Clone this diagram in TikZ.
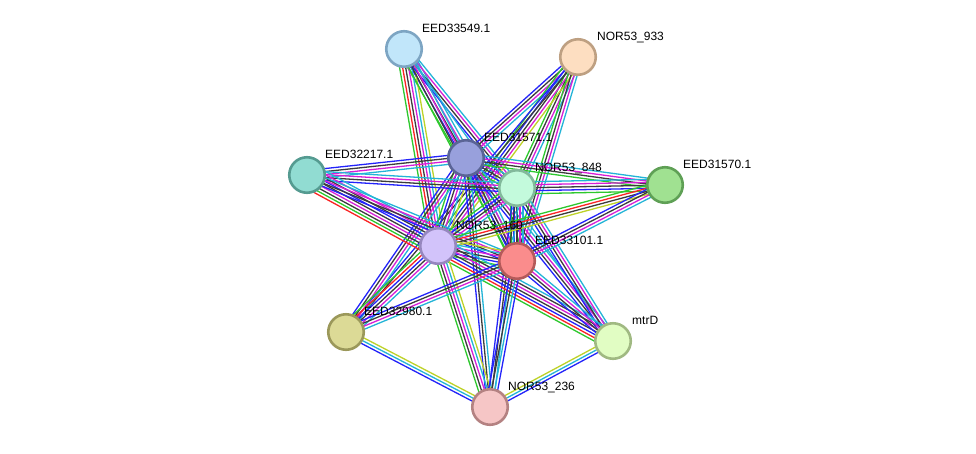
\documentclass[tikz,border=0pt]{standalone}
\usepackage{fontspec}
\setmainfont{Liberation Sans}
\usetikzlibrary{calc}
\pgfdeclarelayer{bg}
\pgfdeclarelayer{lb}
\pgfsetlayers{bg,lb,main}
\definecolor{eg}{RGB}{45,200,45}
\definecolor{er}{RGB}{250,35,35}
\definecolor{eb}{RGB}{35,35,250}
\definecolor{ek}{RGB}{60,60,60}
\definecolor{em}{RGB}{215,30,215}
\definecolor{ec}{RGB}{35,180,215}
\definecolor{ey}{RGB}{190,210,40}
\newcommand\sedge[4]{%
  \foreach \ecol [count=\eidx] in {#4} {%
    \pgfmathsetmacro\eoff{(\eidx-(#3+1)/2)*3}%
    \draw[draw=\ecol, line width=1.3pt] ($(#1)!\eoff pt!90:(#2)$) -- ($(#2)!\eoff pt!-90:(#1)$);
  }}
\tikzset{
  prot/.style={circle, minimum size=35.5pt, inner sep=0pt, line width=2.6pt},
  lbl/.style={anchor=west, inner sep=0pt, text height=8.6pt, text depth=0pt, font=\fontsize{12}{14}\selectfont},
}
\begin{document}
\begin{tikzpicture}[x=1pt,y=-1pt]
\useasboundingbox (0,0) rectangle (976,453);
% nodes
\node[prot, fill={rgb,255:red,193;green,230;blue,250}, draw={rgb,255:red,125;green,165;blue,195}] (n33549) at (404,49) {};
\node[prot, fill={rgb,255:red,253;green,222;blue,193}, draw={rgb,255:red,190;green,160;blue,130}] (n933) at (578,57) {};
\node[prot, fill={rgb,255:red,152;green,160;blue,220}, draw={rgb,255:red,90;green,100;blue,150}] (n31571) at (466,158) {};
\node[prot, fill={rgb,255:red,145;green,220;blue,210}, draw={rgb,255:red,85;green,155;blue,145}] (n32217) at (307,175) {};
\node[prot, fill={rgb,255:red,195;green,250;blue,220}, draw={rgb,255:red,130;green,185;blue,155}] (n848) at (517,188) {};
\node[prot, fill={rgb,255:red,160;green,225;blue,145}, draw={rgb,255:red,95;green,160;blue,85}] (n31570) at (665,185) {};
\node[prot, fill={rgb,255:red,210;green,195;blue,250}, draw={rgb,255:red,150;green,135;blue,190}] (n1607) at (438,246) {};
\node[prot, fill={rgb,255:red,250;green,140;blue,140}, draw={rgb,255:red,180;green,90;blue,90}] (n33101) at (517,261) {};
\node[prot, fill={rgb,255:red,220;green,218;blue,150}, draw={rgb,255:red,155;green,152;blue,90}] (n32980) at (346,332) {};
\node[prot, fill={rgb,255:red,225;green,253;blue,195}, draw={rgb,255:red,160;green,185;blue,130}] (mtrD) at (613,341) {};
\node[prot, fill={rgb,255:red,246;green,198;blue,198}, draw={rgb,255:red,180;green,130;blue,130}] (n236) at (490,407) {};
% labels (below the nodes)
\begin{pgfonlayer}{lb}
\node[lbl] (t33549) at (422,28) {EED33549.1};
\node[lbl] (t933) at (597,36) {NOR53\_933};
\node[lbl] (t31571) at (484,137) {EED31571.1};
\node[lbl] (t32217) at (325,154) {EED32217.1};
\node[lbl] (t848) at (535,167) {NOR53\_848};
\node[lbl] (t31570) at (683,164) {EED31570.1};
\node[lbl] (t1607) at (456,225) {NOR53\_160};
\node[lbl] (t33101) at (535,240) {EED33101.1};
\node[lbl] (t32980) at (364,311) {EED32980.1};
\node[lbl] (tmtrD) at (632,320) {mtrD};
\node[lbl] (t236) at (508,386) {NOR53\_236};
\end{pgfonlayer}
\begin{pgfonlayer}{bg}
\fill[white] (0,0) rectangle (976,453);
\sedge{n33549}{n31571}{5}{eg,eb,ek,em,ec}
\sedge{n33549}{n1607}{6}{eg,er,ek,em,ec,ey}
\sedge{n33549}{n848}{4}{eb,ek,em,ec}
\sedge{n33549}{n33101}{4}{eg,ek,em,ec}
\sedge{n33549}{mtrD}{1}{ec}
\sedge{n933}{n31571}{4}{eb,ek,em,ec}
\sedge{n933}{n848}{4}{eg,ek,em,ec}
\sedge{n933}{n1607}{5}{eg,eb,ek,em,ey}
\sedge{n933}{n33101}{4}{eg,ek,em,ec}
\sedge{n933}{n32980}{2}{eb,ek}
\sedge{n31571}{n32217}{4}{eb,ek,em,ec}
\sedge{n31571}{n848}{5}{eg,eb,ek,em,ec}
\sedge{n31571}{n31570}{4}{eg,ek,em,ec}
\sedge{n31571}{n1607}{6}{eg,eb,ek,em,ec,ey}
\sedge{n31571}{n33101}{5}{eg,eb,ek,em,ec}
\sedge{n31571}{mtrD}{4}{eb,ek,em,ec}
\sedge{n31571}{n236}{3}{eb,ek,ec}
\sedge{n31571}{n32980}{4}{eb,ek,em,ec}
\sedge{n32217}{n848}{4}{eb,ek,em,ec}
\sedge{n32217}{n1607}{9}{er,eg,ek,em,ek,eb,ek,em,ec}
\sedge{n32217}{n33101}{4}{eb,ek,em,ec}
\sedge{n848}{n31570}{5}{eg,eb,ek,em,ec}
\sedge{n848}{n1607}{5}{eg,eb,ek,em,ec}
\sedge{n848}{n33101}{5}{eg,eb,ek,em,ec}
\sedge{n848}{mtrD}{4}{eb,ek,em,ec}
\sedge{n848}{n236}{3}{eb,ek,ec}
\sedge{n31570}{n1607}{4}{eg,er,ek,ey}
\sedge{n31570}{n33101}{4}{eb,ek,em,ec}
\sedge{n1607}{n33101}{6}{eg,eb,ek,em,ec,ey}
\sedge{n1607}{mtrD}{7}{eg,er,eb,ek,em,ek,ec}
\sedge{n1607}{n236}{5}{eg,ek,em,ec,ey}
\sedge{n1607}{n32980}{6}{eg,er,eb,ek,em,ec}
\sedge{n33101}{mtrD}{4}{eb,ek,em,ec}
\sedge{n33101}{n236}{4}{eb,ek,ec,eb}
\sedge{n33101}{n32980}{4}{eb,ek,em,ec}
\sedge{n32980}{n236}{3}{eb,ec,ey}
\sedge{mtrD}{n236}{3}{ey,ec,eb}
\end{pgfonlayer}
\end{tikzpicture}
\end{document}
